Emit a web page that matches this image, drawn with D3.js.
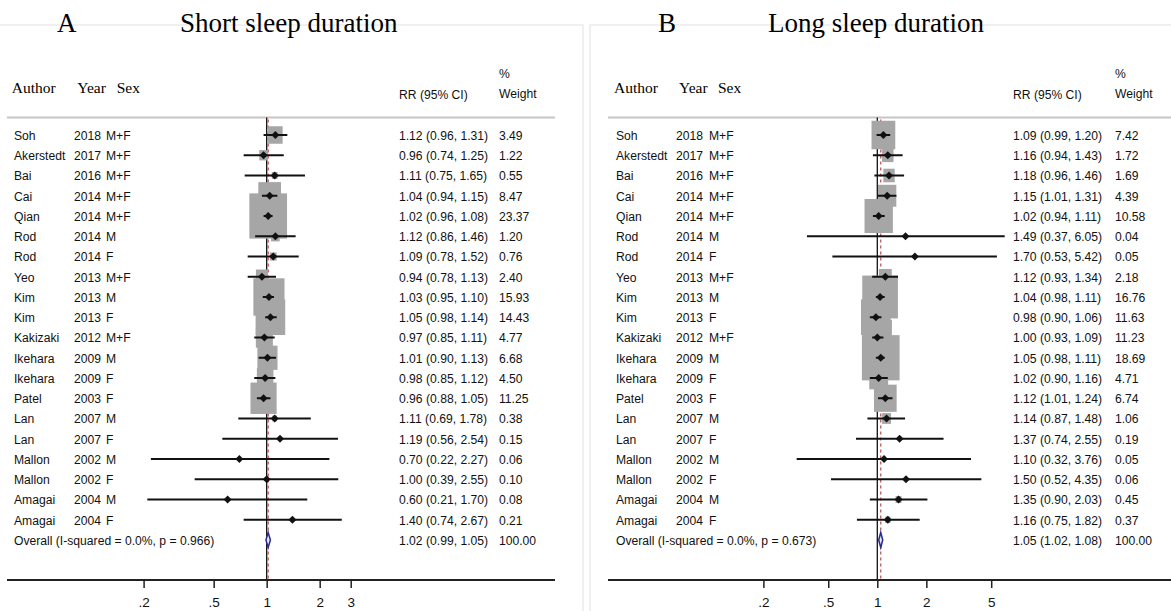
<!DOCTYPE html>
<meta charset="utf-8">
<script src="https://d3js.org/d3.v7.min.js"></script>
<style>body{margin:0;background:#fff}</style>
<div id="chart"></div>
<script>

// study labels, same order in both panels
const authors = ["Soh","Akerstedt","Bai","Cai","Qian","Rod","Rod","Yeo","Kim","Kim","Kakizaki","Ikehara","Ikehara","Patel","Lan","Lan","Mallon","Mallon","Amagai","Amagai"];
const years = [2018,2017,2016,2014,2014,2014,2014,2013,2013,2013,2012,2009,2009,2003,2007,2007,2002,2002,2004,2004];
const sexes = ["M+F","M+F","M+F","M+F","M+F","M","F","M+F","M","F","M+F","M","F","F","M","F","M","F","M","F"];

// A - short sleep duration
const shortRR = [1.12,0.96,1.11,1.04,1.02,1.12,1.09,0.94,1.03,1.05,0.97,1.01,0.98,0.96,1.11,1.19,0.70,1.00,0.60,1.40];
const shortLo = [0.96,0.74,0.75,0.94,0.96,0.86,0.78,0.78,0.95,0.98,0.85,0.90,0.85,0.88,0.69,0.56,0.22,0.39,0.21,0.74];
const shortHi = [1.31,1.25,1.65,1.15,1.08,1.46,1.52,1.13,1.10,1.14,1.11,1.13,1.12,1.05,1.78,2.54,2.27,2.55,1.70,2.67];
const shortW  = [3.49,1.22,0.55,8.47,23.37,1.20,0.76,2.40,15.93,14.43,4.77,6.68,4.50,11.25,0.38,0.15,0.06,0.10,0.08,0.21];
const shortOverall = [1.02, 0.99, 1.05];
const shortHet = "(I-squared = 0.0%, p = 0.966)";
const ticksA = [0.2, 0.5, 1, 2, 3];
const tickLabelsA = [".2", ".5", "1", "2", "3"];

// B - long sleep duration
const longRR = [1.09,1.16,1.18,1.15,1.02,1.49,1.70,1.12,1.04,0.98,1.00,1.05,1.02,1.12,1.14,1.37,1.10,1.50,1.35,1.16];
const longLo = [0.99,0.94,0.96,1.01,0.94,0.37,0.53,0.93,0.98,0.90,0.93,0.98,0.90,1.01,0.87,0.74,0.32,0.52,0.90,0.75];
const longHi = [1.20,1.43,1.46,1.31,1.11,6.05,5.42,1.34,1.11,1.06,1.09,1.11,1.16,1.24,1.48,2.55,3.76,4.35,2.03,1.82];
const longW  = [7.42,1.72,1.69,4.39,10.58,0.04,0.05,2.18,16.76,11.63,11.23,18.69,4.71,6.74,1.06,0.19,0.05,0.06,0.45,0.37];
const longOverall = [1.05, 1.02, 1.08];
const longHet = "(I-squared = 0.0%, p = 0.673)";
const ticksB = [0.2, 0.5, 1, 2, 5];
const tickLabelsB = [".2", ".5", "1", "2", "5"];

const width = 1171, height = 611;
const sans = "'Liberation Sans', Arial, sans-serif";
const serif = "'Liberation Serif', 'Times New Roman', serif";

const svg = d3.select("#chart").append("svg")
  .attr("width", width).attr("height", height)
  .style("background", "#fff");

// one row per study + overall row
const y = d3.scaleLinear().domain([0, 20]).range([135, 540]);
const axisY = 580, headY = 117.5;

const f2 = d3.format(".2f");

// condensed sans text like the Stata export
function narrow(g, x, yy, str, anchor) {
  return g.append("text")
    .attr("transform", `translate(${x},${yy}) scale(0.9,1)`)
    .attr("font-family", sans).attr("font-size", 13.5)
    .attr("fill", "#111")
    .attr("text-anchor", anchor || "start")
    .text(str);
}

const panels = [
  {letter: "A", title: "Short sleep duration", rr: shortRR, lo: shortLo, hi: shortHi, w: shortW,
   overall: shortOverall, het: shortHet, ticks: ticksA, tickLabels: tickLabelsA,
   x: d3.scaleLog().domain([0.2, 3]).range([143.6, 350.7]),
   lineX: [7, 555], letterX: 57, titleX: 180,
   colHead: [11.7, 77.3, 116.7], col: [14, 74, 106], rrX: 399, wtX: 499},
  {letter: "B", title: "Long sleep duration", rr: longRR, lo: longLo, hi: longHi, w: longW,
   overall: longOverall, het: longHet, ticks: ticksB, tickLabels: tickLabelsB,
   x: d3.scaleLog().domain([0.2, 5]).range([763.4, 991.2]),
   lineX: [608, 1171], letterX: 658, titleX: 768,
   colHead: [614, 679, 718], col: [616, 676, 709], rrX: 1013, wtX: 1115}
];

// faint panel frames
svg.append("path").attr("d", "M0,25H583V611").attr("fill", "none").attr("stroke", "#ececec").attr("stroke-width", 1.5);
svg.append("path").attr("d", "M590,611V25H1171").attr("fill", "none").attr("stroke", "#ececec").attr("stroke-width", 1.5);

panels.forEach(function(p) {
  const g = svg.append("g");
  const x = p.x;
  const rows = p.rr.map((d, i) => ({i: i, rr: d, lo: p.lo[i], hi: p.hi[i], w: p.w[i]}));
  const maxW = d3.max(p.w);
  const boxW = d => 37.7 * Math.sqrt(d.w / maxW);

  // titles
  g.append("text").attr("x", p.letterX).attr("y", 32)
    .attr("font-family", serif).attr("font-size", 27).text(p.letter);
  g.append("text").attr("x", p.titleX).attr("y", 32)
    .attr("font-family", serif).attr("font-size", 27).text(p.title);

  // column headers
  ["Author", "Year", "Sex"].forEach((t, k) => {
    g.append("text").attr("x", p.colHead[k]).attr("y", 92.5)
      .attr("font-family", serif).attr("font-size", 15.5).text(t);
  });
  narrow(g, p.rrX, 99, "RR (95% CI)");
  narrow(g, p.wtX, 78, "%");
  narrow(g, p.wtX, 98, "Weight");

  g.append("line").attr("x1", p.lineX[0]).attr("x2", p.lineX[1])
    .attr("y1", headY).attr("y2", headY)
    .attr("stroke", "#c6c6c6").attr("stroke-width", 2);

  // null line and overall line
  g.append("line").attr("x1", x(1)).attr("x2", x(1))
    .attr("y1", headY).attr("y2", axisY)
    .attr("stroke", "#111").attr("stroke-width", 1.3);
  g.append("line").attr("x1", x(p.overall[0])).attr("x2", x(p.overall[0]))
    .attr("y1", headY + 2).attr("y2", axisY)
    .attr("stroke", "#b8484a").attr("stroke-width", 1.2)
    .attr("stroke-dasharray", "3,3");

  // weight boxes
  g.selectAll("rect.box").data(rows).join("rect")
    .attr("class", "box")
    .attr("x", d => x(d.rr) - boxW(d) / 2)
    .attr("y", d => y(d.i) - boxW(d) * 0.6)
    .attr("width", boxW)
    .attr("height", d => boxW(d) * 1.2)
    .attr("fill", "#a6a6a6");

  // confidence intervals
  g.selectAll("line.ci").data(rows).join("line")
    .attr("class", "ci")
    .attr("x1", d => x(d.lo)).attr("x2", d => x(d.hi))
    .attr("y1", d => y(d.i)).attr("y2", d => y(d.i))
    .attr("stroke", "#111").attr("stroke-width", 2);

  // point estimates (small diamonds)
  g.selectAll("path.pt").data(rows).join("path")
    .attr("class", "pt")
    .attr("transform", d => `translate(${x(d.rr)},${y(d.i)})`)
    .attr("d", "M-4,0L0,-4L4,0L0,4Z")
    .attr("fill", "#111");

  // overall diamond
  const oy = y(20), o = p.overall;
  g.append("path")
    .attr("d", `M${x(o[1])},${oy}L${x(o[0])},${oy - 7.5}L${x(o[2])},${oy}L${x(o[0])},${oy + 7.5}Z`)
    .attr("fill", "#e6e6f4").attr("stroke", "#2b2b8c").attr("stroke-width", 1.5);

  // row labels
  rows.forEach(d => {
    const yy = y(d.i) + 4.8;
    narrow(g, p.col[0], yy, authors[d.i]);
    narrow(g, p.col[1], yy, years[d.i]);
    narrow(g, p.col[2], yy, sexes[d.i]);
    narrow(g, p.rrX, yy, `${f2(d.rr)} (${f2(d.lo)}, ${f2(d.hi)})`);
    narrow(g, p.wtX, yy, f2(d.w));
  });
  const oyy = oy + 4.8;
  narrow(g, p.col[0], oyy, "Overall  " + p.het);
  narrow(g, p.rrX, oyy, `${f2(o[0])} (${f2(o[1])}, ${f2(o[2])})`);
  narrow(g, p.wtX, oyy, "100.00");

  // x axis
  g.append("line").attr("x1", p.lineX[0]).attr("x2", p.lineX[1])
    .attr("y1", axisY).attr("y2", axisY)
    .attr("stroke", "#222").attr("stroke-width", 2);
  const ax = g.append("g").attr("transform", `translate(0,${axisY})`)
    .call(d3.axisBottom(x).tickValues(p.ticks)
      .tickFormat((d, k) => p.tickLabels[k]).tickSize(8).tickPadding(9));
  ax.select(".domain").remove();
  ax.selectAll(".tick line").attr("stroke", "#222").attr("stroke-width", 1.5);
  ax.selectAll(".tick text").attr("font-family", sans).attr("font-size", 13.5).attr("fill", "#111");
});

</script>
